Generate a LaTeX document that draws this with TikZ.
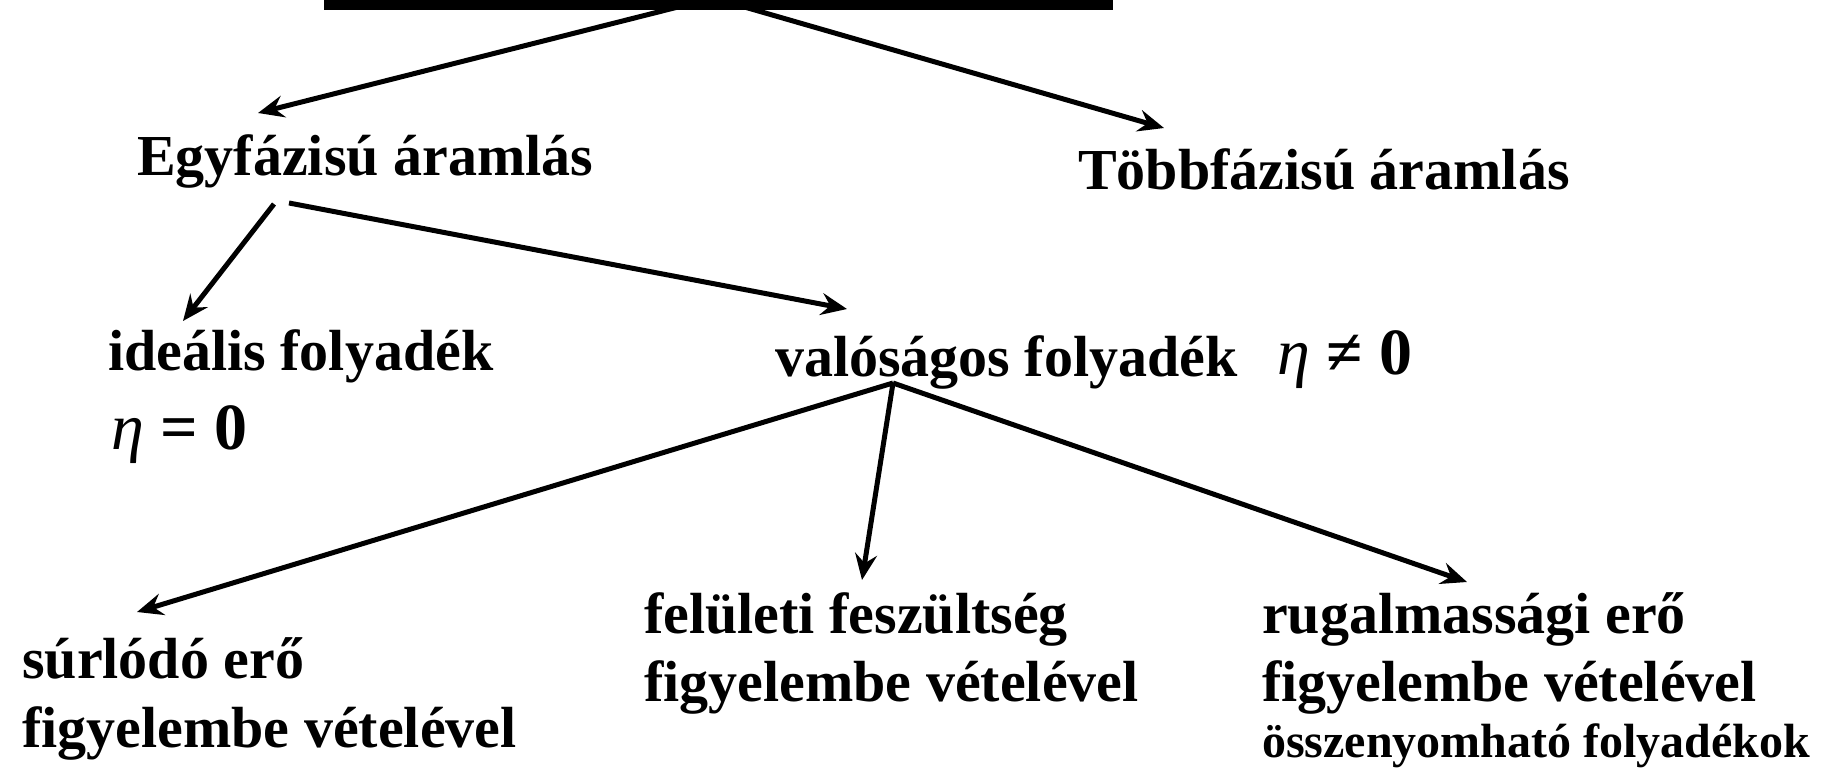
\documentclass[tikz,border=0pt]{standalone}
\usepackage{fontspec}
\setmainfont{Liberation Serif}
\usetikzlibrary{arrows.meta,calc}
\tikzset{
  lbl/.style={anchor=base west, inner sep=0pt, font=\fontsize{58}{68}\selectfont\bfseries},
  eqn/.style={anchor=base west, inner sep=0pt, font=\fontsize{66}{76}\selectfont\bfseries},
  small/.style={anchor=base west, inner sep=0pt, font=\fontsize{48}{56}\selectfont\bfseries},
  arr/.style={line width=5pt, -{Stealth[length=26pt,width=22pt,inset=9pt]}},
}
\begin{document}
\begin{tikzpicture}[x=1pt,y=-1pt]
\useasboundingbox (0,0) rectangle (1827,771);
\node[fill=black, inner sep=0pt, minimum width=789pt, minimum height=10pt] (title) at (718.5,5) {};
\node[lbl] (egy) at (137,175) {Egyfázisú áramlás};
\node[lbl] (tobb) at (1078,189) {Többfázisú áramlás};
\node[lbl] (ideal) at (108,370) {ideális folyadék};
\node[eqn] (eta0) at (111,449) {{\mdseries\itshape η} = 0};
\node[lbl] (valos) at (775,376) {valóságos folyadék};
\node[eqn] (etane) at (1277,374) {{\mdseries\itshape η} ≠ 0};
\node[lbl] (surl1) at (22,678) {súrlódó erő};
\node[lbl] (surl2) at (22,747) {figyelembe vételével};
\node[lbl] (felu1) at (644,633) {felületi feszültség};
\node[lbl] (felu2) at (644,701) {figyelembe vételével};
\node[lbl] (rug1) at (1262,633) {rugalmassági erő};
\node[lbl] (rug2) at (1262,701) {figyelembe vételével};
\node[small] (rug3) at (1262,757) {összenyomható folyadékok};
\draw[arr] ($(title.center)+(-36.5,1)$) -- ($(egy.base west)+(121,-62)$);
\draw[arr] ($(title.center)+(22.5,1)$) -- ($(tobb.base west)+(86,-61)$);
\draw[arr] ($(egy.base west)+(137,29)$) -- ($(ideal.base west)+(75,-49)$);
\draw[arr] ($(egy.base west)+(152,28)$) -- ($(valos.base west)+(72,-67)$);
\draw[arr] ($(valos.base west)+(118,7)$) -- ($(surl1.base west)+(115,-66)$);
\draw[arr] ($(valos.base west)+(118,7)$) -- ($(felu1.base west)+(218,-53)$);
\draw[arr] ($(valos.base west)+(118,7)$) -- ($(rug1.base west)+(205,-51)$);
\end{tikzpicture}
\end{document}
